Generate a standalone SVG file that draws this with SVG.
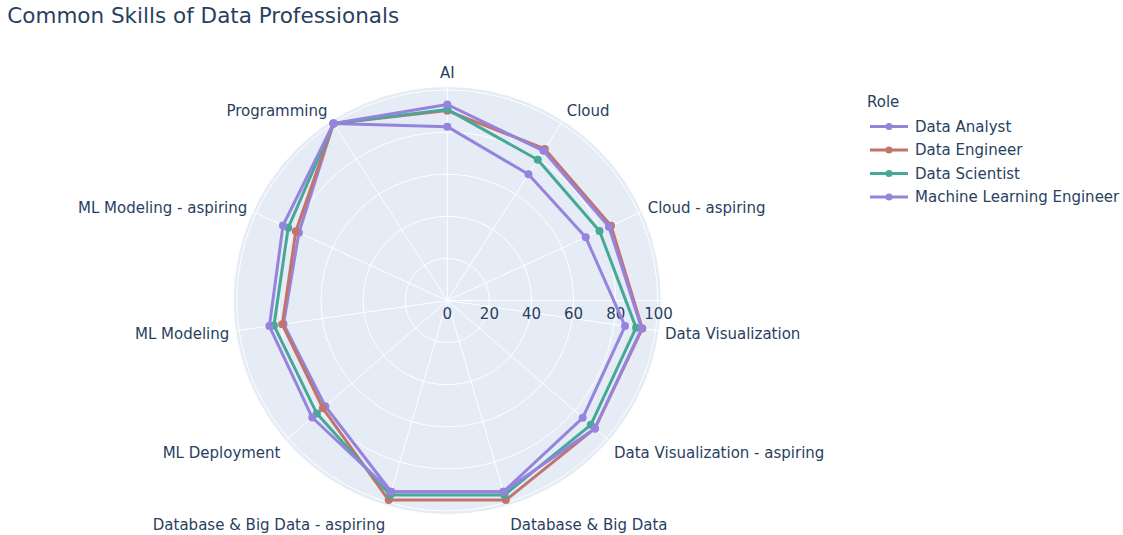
<svg xmlns="http://www.w3.org/2000/svg" width="1123" height="535" viewBox="0 0 1123 535">
<style>
text{font-family:"DejaVu Sans","Liberation Sans",sans-serif;fill:#2a3f5f;font-size:15px}
.title{font-size:21.5px}
.grid{fill:none;stroke:#ffffff;stroke-width:1}
.tr{fill:none;stroke-width:3;stroke-linejoin:round}
.da{stroke:#9683dd}.de{stroke:#c1746c}.ds{stroke:#46a896}.ml{stroke:#9683dd}
.mda{fill:#9683dd}.mde{fill:#c1746c}.mds{fill:#46a896}.mml{fill:#9683dd}
</style>
<rect width="1123" height="535" fill="#ffffff"/>
<text class="title" x="7.3" y="22.5">Common Skills of Data Professionals</text>
<g id="polar-bg">
<circle cx="447.3" cy="300.5" r="214" fill="#e5ecf6" stroke="#ffffff" stroke-width="1"/>
<g class="grid">
<circle cx="447.3" cy="300.5" r="42.1"/>
<circle cx="447.3" cy="300.5" r="84.2"/>
<circle cx="447.3" cy="300.5" r="126.3"/>
<circle cx="447.3" cy="300.5" r="168.4"/>
<circle cx="447.3" cy="300.5" r="210.5"/>
<path d="M447.3 300.5L447.3 86.5M447.3 300.5L563 120.47M447.3 300.5L641.96 211.6M447.3 300.5L659.12 330.95M447.3 300.5L609.03 440.64M447.3 300.5L507.59 505.83M447.3 300.5L386.99 505.83M447.3 300.5L285.57 440.64M447.3 300.5L235.48 330.95M447.3 300.5L252.64 211.6M447.3 300.5L331.6 120.47M447.3 300.5L661.3 300.5"/>
</g>
</g>
<g id="radial-ticks" text-anchor="middle">
<text x="447.3" y="318.5">0</text>
<text x="489.4" y="318.5">20</text>
<text x="531.5" y="318.5">40</text>
<text x="573.6" y="318.5">60</text>
<text x="615.7" y="318.5">80</text>
<text x="658.5" y="318.5">100</text>
</g>
<g id="angular-labels">
<text x="447.3" y="77.7" text-anchor="middle">AI</text>
<text x="566.7" y="116">Cloud</text>
<text x="647.7" y="212.8">Cloud - aspiring</text>
<text x="665" y="339.3">Data Visualization</text>
<text x="614" y="457.8">Data Visualization - aspiring</text>
<text x="510.2" y="529.8">Database &amp; Big Data</text>
<text x="385.2" y="529.8" text-anchor="end">Database &amp; Big Data - aspiring</text>
<text x="280.5" y="457.8" text-anchor="end">ML Deployment</text>
<text x="229.3" y="339.3" text-anchor="end">ML Modeling</text>
<text x="247.3" y="212.8" text-anchor="end">ML Modeling - aspiring</text>
<text x="327.5" y="116" text-anchor="end">Programming</text>
</g>
<g id="connectors">
<g id="trace-data-analyst">
<polygon class="tr da" points="447.3,126.63 528.44,174.24 585.74,237.28 625.03,326.05 582.69,417.81 503.46,491.77 391.14,491.77 325.28,406.23 283.53,324.05 298.9,232.73 333.5,123.42"/>
<g class="mda"><circle cx="447.3" cy="126.63" r="4"/><circle cx="528.44" cy="174.24" r="4"/><circle cx="585.74" cy="237.28" r="4"/><circle cx="625.03" cy="326.05" r="4"/><circle cx="582.69" cy="417.81" r="4"/><circle cx="503.46" cy="491.77" r="4"/><circle cx="391.14" cy="491.77" r="4"/><circle cx="325.28" cy="406.23" r="4"/><circle cx="283.53" cy="324.05" r="4"/><circle cx="298.9" cy="232.73" r="4"/><circle cx="333.5" cy="123.42" r="4"/></g>
</g>
<g id="trace-data-engineer">
<polygon class="tr de" points="447.3,110.63 544.72,148.91 611.01,225.73 642.32,328.54 594.93,428.42 505.89,500.05 388.71,500.05 322.89,408.3 282.28,324.23 295.84,231.33 333.5,123.42"/>
<g class="mde"><circle cx="447.3" cy="110.63" r="4"/><circle cx="544.72" cy="148.91" r="4"/><circle cx="611.01" cy="225.73" r="4"/><circle cx="642.32" cy="328.54" r="4"/><circle cx="594.93" cy="428.42" r="4"/><circle cx="505.89" cy="500.05" r="4"/><circle cx="388.71" cy="500.05" r="4"/><circle cx="322.89" cy="408.3" r="4"/><circle cx="282.28" cy="324.23" r="4"/><circle cx="295.84" cy="231.33" r="4"/><circle cx="333.5" cy="123.42" r="4"/></g>
</g>
<g id="trace-data-scientist">
<polygon class="tr ds" points="447.3,109.37 537.78,159.72 599.53,230.98 636.07,327.64 590.79,424.84 504.41,495 390.19,495 316.85,413.54 273.94,325.42 288.18,227.83 333.5,123.42"/>
<g class="mds"><circle cx="447.3" cy="109.37" r="4"/><circle cx="537.78" cy="159.72" r="4"/><circle cx="599.53" cy="230.98" r="4"/><circle cx="636.07" cy="327.64" r="4"/><circle cx="590.79" cy="424.84" r="4"/><circle cx="504.41" cy="495" r="4"/><circle cx="390.19" cy="495" r="4"/><circle cx="316.85" cy="413.54" r="4"/><circle cx="273.94" cy="325.42" r="4"/><circle cx="288.18" cy="227.83" r="4"/><circle cx="333.5" cy="123.42" r="4"/></g>
</g>
<g id="trace-ml-engineer">
<polygon class="tr ml" points="447.3,104.52 543.46,150.87 608.91,226.7 641.7,328.45 594.93,428.42 503.46,491.77 391.14,491.77 312.24,417.53 269.36,326.08 283.01,225.47 333.5,123.42"/>
<g class="mml"><circle cx="447.3" cy="104.52" r="4"/><circle cx="543.46" cy="150.87" r="4"/><circle cx="608.91" cy="226.7" r="4"/><circle cx="641.7" cy="328.45" r="4"/><circle cx="594.93" cy="428.42" r="4"/><circle cx="503.46" cy="491.77" r="4"/><circle cx="391.14" cy="491.77" r="4"/><circle cx="312.24" cy="417.53" r="4"/><circle cx="269.36" cy="326.08" r="4"/><circle cx="283.01" cy="225.47" r="4"/><circle cx="333.5" cy="123.42" r="4"/></g>
</g>
</g>
<g id="legend">
<text x="867" y="107">Role</text>
<g id="legend-data-analyst"><path class="tr da" d="M870 126.5H908"/><circle class="mda" cx="889" cy="126.5" r="3.5"/><text x="915" y="131.5">Data Analyst</text></g>
<g id="legend-data-engineer"><path class="tr de" d="M870 150H908"/><circle class="mde" cx="889" cy="150" r="3.5"/><text x="915" y="155">Data Engineer</text></g>
<g id="legend-data-scientist"><path class="tr ds" d="M870 173.5H908"/><circle class="mds" cx="889" cy="173.5" r="3.5"/><text x="915" y="178.5">Data Scientist</text></g>
<g id="legend-ml-engineer"><path class="tr ml" d="M870 197H908"/><circle class="mml" cx="889" cy="197" r="3.5"/><text x="915" y="202">Machine Learning Engineer</text></g>
</g>
</svg>
